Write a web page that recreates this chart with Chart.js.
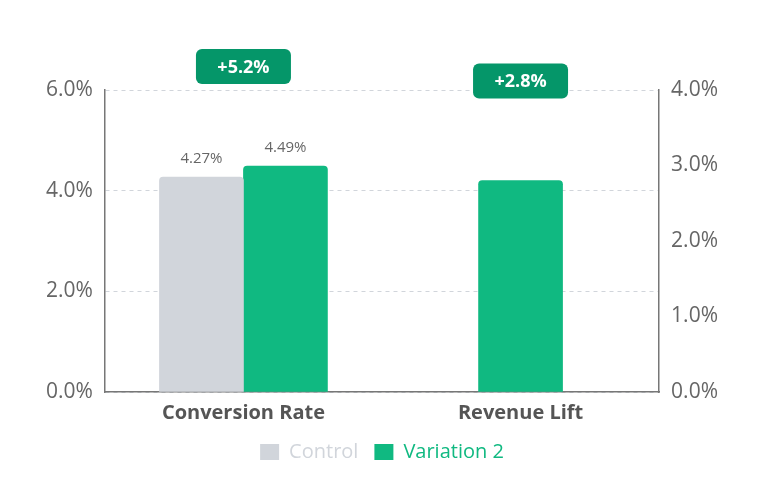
<!DOCTYPE html>
<html>
<head>
<meta charset="utf-8">
<script src="https://cdn.jsdelivr.net/npm/chart.js@4/dist/chart.umd.min.js"></script>
<style>
  html, body { margin: 0; padding: 0; background: #fff; }
  #wrap { width: 768px; height: 482px; }
</style>
</head>
<body>
<div id="wrap"><canvas id="chart"></canvas></div>
<script>
// Datos del gráfico
const categories = ['Conversion Rate', 'Revenue Lift'];
const controlValues = [4.27, null];
const variationValues = [4.49, null];
const revenueValues = [null, 2.8];
const liftLabels = ['+5.2%', '+2.8%'];
const leftTicks = [0, 2, 4, 6];
const rightTicks = [0, 1, 2, 3, 4];

const FONT = "'Open Sans', sans-serif";

// Etiquetas de valor y badges de mejora
const annotationsPlugin = {
    id: 'annotations',
    afterDatasetsDraw(chart) {
        const ctx = chart.ctx;
        const tops = [];
        chart.data.datasets.forEach((ds, i) => {
            const meta = chart.getDatasetMeta(i);
            meta.data.forEach((bar, idx) => {
                if (ds.data[idx] === null) return;
                tops[idx] = Math.min(tops[idx] ?? Infinity, bar.y);
                if (ds.showValue) {
                    ctx.save();
                    ctx.font = '15px ' + FONT;
                    ctx.fillStyle = '#666';
                    ctx.textAlign = 'center';
                    ctx.textBaseline = 'bottom';
                    ctx.fillText(ds.data[idx].toFixed(2) + '%', bar.x, bar.y - 11);
                    ctx.restore();
                }
            });
        });
        const xScale = chart.scales.x;
        liftLabels.forEach((txt, idx) => {
            const cx = xScale.getPixelForValue(idx);
            const w = 95, h = 35;
            const bottom = tops[idx] - 82;
            ctx.save();
            ctx.fillStyle = '#059669';
            ctx.beginPath();
            ctx.roundRect(cx - w / 2, bottom - h, w, h, 6);
            ctx.fill();
            ctx.font = 'bold 18px ' + FONT;
            ctx.fillStyle = '#fff';
            ctx.textAlign = 'center';
            ctx.textBaseline = 'middle';
            ctx.fillText(txt, cx, bottom - h / 2 + 1);
            ctx.restore();
        });
    }
};

new Chart(document.getElementById('chart'), {
    type: 'bar',
    data: {
        labels: categories,
        datasets: [
            { label: 'Control', data: controlValues, backgroundColor: '#d1d5db', yAxisID: 'y', showValue: true },
            { label: 'Variation 2', data: variationValues, backgroundColor: '#10b981', yAxisID: 'y', showValue: true },
            { label: 'Revenue', data: revenueValues, backgroundColor: '#10b981', yAxisID: 'y1' }
        ]
    },
    options: {
        responsive: true,
        maintainAspectRatio: false,
        animation: false,
        layout: { padding: { top: 90, left: 34, right: 38, bottom: 10 } },
        datasets: {
            bar: { barThickness: 84, skipNull: true, borderRadius: 4, borderSkipped: 'start' }
        },
        plugins: {
            tooltip: { enabled: false },
            legend: {
                position: 'bottom',
                labels: {
                    font: { family: FONT, size: 20 },
                    boxWidth: 19,
                    boxHeight: 16,
                    padding: 16,
                    filter: item => !item.text.startsWith('Revenue'),
                    generateLabels: chart => chart.data.datasets.map((ds, i) => ({
                        text: ds.label,
                        fillStyle: ds.backgroundColor,
                        strokeStyle: ds.backgroundColor,
                        fontColor: ds.backgroundColor,
                        lineWidth: 0,
                        datasetIndex: i
                    }))
                }
            }
        },
        scales: {
            x: {
                grid: { display: false },
                border: { color: '#777', width: 1.5 },
                ticks: { color: '#555', font: { family: FONT, size: 20, weight: 'bold' }, padding: 1 }
            },
            y: {
                position: 'left',
                min: 0,
                max: 6,
                afterBuildTicks: axis => { axis.ticks = leftTicks.map(v => ({ value: v })); },
                grid: { color: '#d1d5db', drawTicks: false },
                border: { color: '#777', width: 1.5, dash: [4, 4] },
                ticks: {
                    color: '#666', font: { family: FONT, size: 21 }, padding: 12,
                    callback: v => v.toFixed(1) + '%'
                }
            },
            y1: {
                position: 'right',
                min: 0,
                max: 4,
                afterBuildTicks: axis => { axis.ticks = rightTicks.map(v => ({ value: v })); },
                grid: { drawOnChartArea: false, drawTicks: false },
                border: { color: '#777', width: 1.5 },
                ticks: {
                    color: '#666', font: { family: FONT, size: 21 }, padding: 12,
                    callback: v => v.toFixed(1) + '%'
                }
            }
        }
    },
    plugins: [annotationsPlugin]
});
</script>
</body>
</html>
